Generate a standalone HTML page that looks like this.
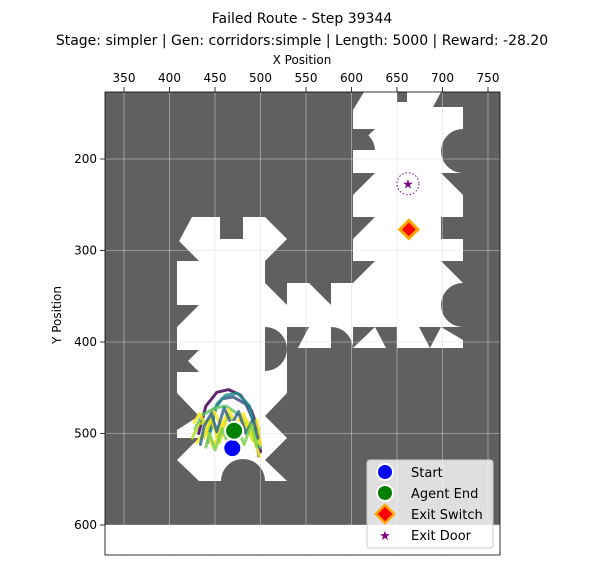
<!DOCTYPE html>
<html><head><meta charset="utf-8"><style>
body{margin:0;background:#fff;font-family:"Liberation Sans","DejaVu Sans",sans-serif;}
svg text{font-family:"DejaVu Sans","Liberation Sans",sans-serif;}
</style></head><body>
<svg id="chart" width="604" height="565" viewBox="0 0 604 565" xmlns="http://www.w3.org/2000/svg">
<text x="302" y="23" font-size="14" text-anchor="middle">Failed Route - Step 39344</text>
<text x="302" y="45" font-size="14" text-anchor="middle">Stage: simpler | Gen: corridors:simple | Length: 5000 | Reward: -28.20</text>
<text x="302" y="64" font-size="12" text-anchor="middle">X Position</text>
<text transform="translate(61,315) rotate(-90)" font-size="12" text-anchor="middle">Y Position</text>
<defs><clipPath id="pc"><rect x="105" y="92" width="395" height="463"/></clipPath></defs>
<g id="plot" clip-path="url(#pc)">
<rect x="105" y="92" width="395" height="433" fill="#606060"/>
<rect x="177" y="217" width="110" height="264" fill="#fff"/>
<rect x="287" y="283" width="176" height="65" fill="#fff"/>
<rect x="353" y="92" width="110" height="256" fill="#fff"/>
<g fill="#606060">
<rect x="220" y="217" width="23" height="22"/>
<polygon points="265,217 287,217 287,239"/>
<polygon points="177,239 199,261 177,261"/>
<polygon points="177,217 192,217 177,245"/>
<polygon points="265,261 287,239 287,283 265,283"/>
<polygon points="265,283 287,283 287,305"/>
<polygon points="177,305 199,305 177,327"/>
<polygon points="177,350 199,350 177,372"/>
<polygon points="177,350 177,372 199,372"/>
<polygon points="177,393 199,416 177,416"/>
<polygon points="177,416 199,416 177,430"/>
<polygon points="177,438 199,438 177,460"/>
<polygon points="177,460 199,481 177,481"/>
<path d="M265,327 A22,22 0 0 1 265,371 Z"/>
<polygon points="265,416 287,393 287,438"/>
<polygon points="265,460 287,438 287,481"/>
<path d="M221,481 A22,22 0 0 1 265,481 Z"/>
<polygon points="287,327 309,327 298,348 287,348"/>
<path d="M331,327 A22,22 0 0 1 331,371 Z"/>
<polygon points="353,327 375,327 353,348"/>
<polygon points="375,327 397,327 397,348 386,348"/>
<polygon points="419,327 430,348 441,327"/>
<polygon points="441,327 463,327 463,340"/>
<polygon points="309,283 331,283 331,305"/>
<polygon points="353,92 364,92 353,110"/>
<rect x="397" y="92" width="10" height="10"/>
<polygon points="441,92 433,107 441,107"/>
<polygon points="441,107 463,107 463,92 441,92"/>
<polygon points="353,129 375,129 353,150"/>
<path d="M353,129 A22,22 0 0 1 375,150 L353,150 Z"/>
<polygon points="353,173 375,173 353,195"/>
<polygon points="353,217 375,217 353,239"/>
<polygon points="353,261 375,261 353,283"/>
<path d="M463,129 A22,22 0 0 0 463,173 Z"/>
<polygon points="441,173 463,173 463,195"/>
<polygon points="441,217 463,217 463,239 441,239"/>
<polygon points="441,261 463,261 463,283"/>
<path d="M463,283 A22,22 0 0 0 463,327 Z"/>
</g>
<g id="grid" stroke="#d8d8d8" stroke-opacity="0.6" stroke-width="0.8"></g>
<rect x="106" y="525" width="393" height="29" fill="#fff"/>
<g id="traj" fill="none" stroke-width="3" stroke-linecap="round" stroke-linejoin="round"></g>
<g id="markers"></g>
</g>
<rect x="105" y="92" width="395" height="463" fill="none" stroke="#000" stroke-width="0.8"/>
<g id="axes"></g>
<g>
<rect x="367" y="460" width="126" height="88" rx="3" fill="#fff" fill-opacity="0.8" stroke="#ccc"/>
<circle cx="385" cy="472" r="8" fill="#0000ff" stroke="#fff" stroke-width="2"/>
<text x="411" y="477" font-size="13">Start</text>
<circle cx="385" cy="493" r="8" fill="#008000" stroke="#fff" stroke-width="2"/>
<text x="411" y="498" font-size="13">Agent End</text>
<polygon points="385,505 394,514 385,523 376,514" fill="#ff0000" stroke="#ffa500" stroke-width="2.5"/>
<text x="411" y="519" font-size="13">Exit Switch</text>
<text x="385" y="540" font-size="13" fill="#800080" text-anchor="middle">★</text>
<text x="411" y="540" font-size="13">Exit Door</text>
</g>
</svg>
<script>
const xTicks=[350,400,450,500,550,600,650,700,750];
const yTicks=[200,300,400,500,600];
const startPt=[469,516];
const endPt=[471,497];
const switchPt=[663,277];
const doorPt=[662,227];
const trajX1=[432,440,452,465,478,490,497,500];
const trajY1=[500,470,455,452,458,475,495,520];
const trajX2=[442,448,458,470,484,494,498];
const trajY2=[510,475,462,460,468,490,525];
const trajX3=[428,436,450,462,474,486,494,500];
const trajY3=[495,480,472,470,478,488,500,515];
const trajX4=[425,432,445,455,465,478,490,497];
const trajY4=[505,490,485,500,480,495,490,510];
const trajX5=[430,440,448,458,470,480,488,496,500];
const trajY5=[510,495,515,488,505,482,500,485,512];
const trajX6=[438,446,455,462,472,482,492,498];
const trajY6=[505,485,510,490,512,488,508,495];
const trajX7=[434,438,446,452,460,468,476,484,492,497];
const trajY7=[512,492,478,498,472,490,476,500,484,505];
const trajX8=[440,444,450,458,466,474,482,490,496];
const trajY8=[515,500,518,495,515,492,512,490,515];
const trajX9=[445,452,462,475,488,495];
const trajY9=[498,468,458,456,470,500];
const trajX10=[427,433,441,449,457,465,473,481,489,499];
const trajY10=[488,478,494,476,492,474,490,478,495,525];
const trajColors=["#440154","#3b528b","#21918c","#5ec962","#b5de2b","#fde725","#fde725","#dde318","#31688e","#7ad151"];
const X=v=>124+(v-350)*0.91, Y=v=>159+(v-200)*0.915;
const NS="http://www.w3.org/2000/svg";
function mk(t,a,p){const e=document.createElementNS(NS,t);for(const k in a)e.setAttribute(k,a[k]);p.appendChild(e);return e;}
const grid=document.getElementById('grid'),axes=document.getElementById('axes');
xTicks.forEach(t=>{
 const l=mk('line',{x1:X(t),x2:X(t),y1:92,y2:555},grid);
 
 
 mk('line',{x1:X(t),x2:X(t),y1:92,y2:87,stroke:'#000','stroke-width':0.8},axes);
 const tx=mk('text',{x:X(t),y:82,'font-size':12,'text-anchor':'middle'},axes);tx.textContent=t;
 
 
});
yTicks.forEach(t=>{
 const l=mk('line',{x1:105,x2:500,y1:Y(t),y2:Y(t)},grid);
 
 
 mk('line',{x1:105,x2:100,y1:Y(t),y2:Y(t),stroke:'#000','stroke-width':0.8},axes);
 const tx=mk('text',{x:97,y:Y(t)+4,'font-size':12,'text-anchor':'end'},axes);tx.textContent=t;
 
 
});
const trajs=[[trajX1,trajY1],[trajX2,trajY2],[trajX9,trajY9],[trajX3,trajY3],[trajX4,trajY4],[trajX10,trajY10],[trajX5,trajY5],[trajX6,trajY6],[trajX7,trajY7],[trajX8,trajY8]];
const tg=document.getElementById('traj');
trajs.forEach((tr,i)=>{
 const d=tr[0].map((x,j)=>(j?'L':'M')+X(x)+','+Y(tr[1][j])).join(' ');
 const p=mk('path',{d:d,stroke:trajColors[i],'stroke-opacity':0.85},tg);
 
 
});
const mg=document.getElementById('markers');
let e=mk('circle',{cx:X(doorPt[0]),cy:Y(doorPt[1]),r:11,fill:'none',stroke:'#800080','stroke-width':1,'stroke-dasharray':'1.5,2'},mg);


e=mk('text',{x:X(doorPt[0]),y:Y(doorPt[1])+5,'font-size':13,fill:'#800080','text-anchor':'middle'},mg);e.textContent='★';


const sx=X(switchPt[0]),sy=Y(switchPt[1]);
e=mk('polygon',{points:`${sx},${sy-9} ${sx+9},${sy} ${sx},${sy+9} ${sx-9},${sy}`,fill:'#ff0000',stroke:'#ffa500','stroke-width':3},mg);


e=mk('circle',{cx:X(startPt[0]),cy:Y(startPt[1]),r:9,fill:'#0000ff',stroke:'#fff','stroke-width':2},mg);


e=mk('circle',{cx:X(endPt[0]),cy:Y(endPt[1]),r:9,fill:'#008000',stroke:'#fff','stroke-width':2},mg);


</script>
</body></html>
